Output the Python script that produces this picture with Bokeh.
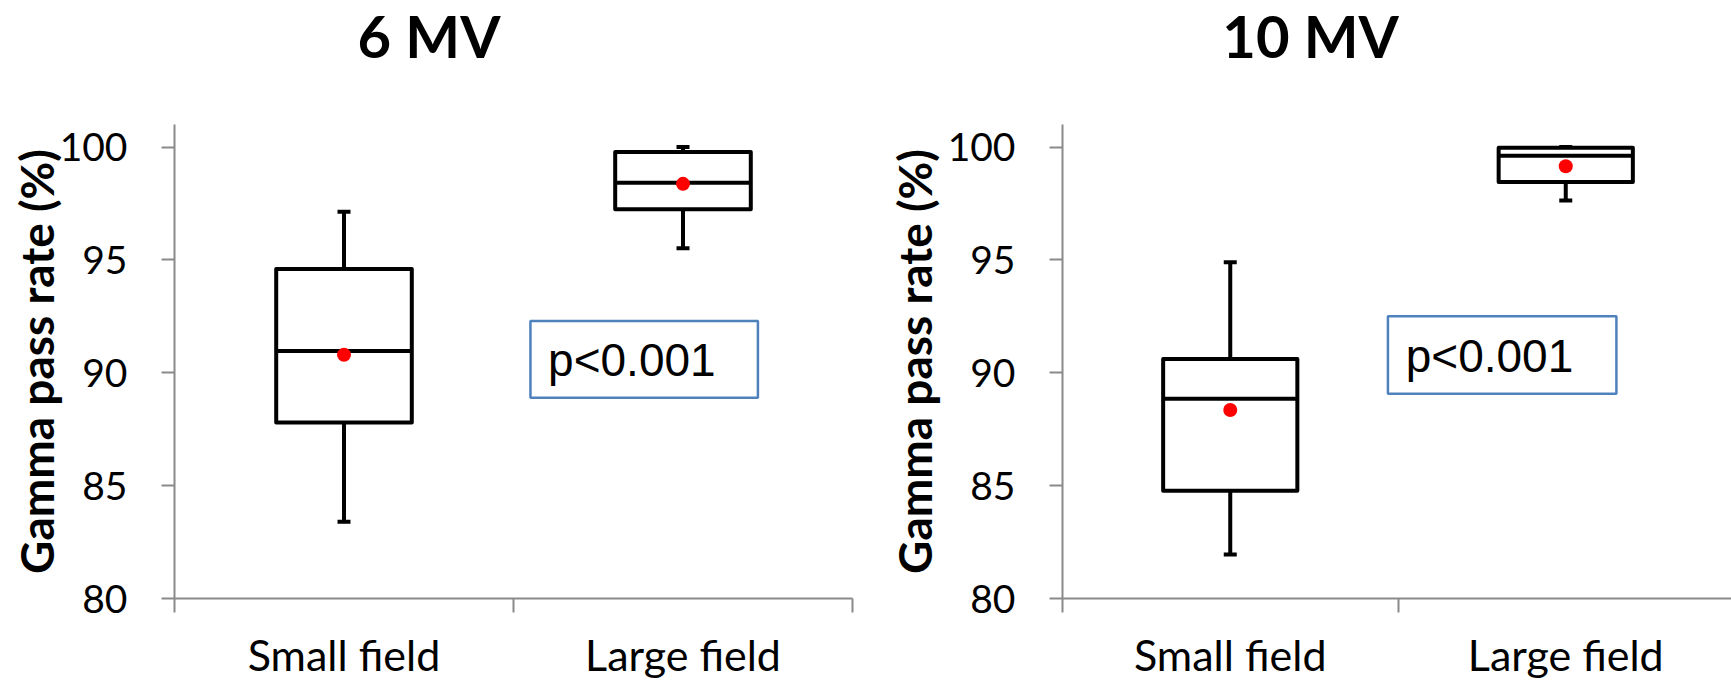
from bokeh.plotting import figure
from bokeh.models import Range1d, FixedTicker, Label, BoxAnnotation, ColumnDataSource
from bokeh.layouts import row, column
from bokeh.embed import file_html
from bokeh.resources import INLINE

# ---------------- data ----------------
categories = ["Small field", "Large field"]
titles = ["6 MV", "10 MV"]
y_ticks = [80, 85, 90, 95, 100]
y_label = "Gamma pass rate (%)"
p_text = "p<0.001"

mv6_lower = [83.4, 95.52]
mv6_q1 = [87.8, 97.24]
mv6_median = [90.97, 98.42]
mv6_q3 = [94.6, 99.78]
mv6_upper = [97.14, 100.0]
mv6_mean = [90.8, 98.37]

mv10_lower = [81.95, 97.63]
mv10_q1 = [84.77, 98.45]
mv10_median = [88.85, 99.62]
mv10_q3 = [90.61, 99.97]
mv10_upper = [94.9, 100.0]
mv10_mean = [88.35, 99.15]

AXIS_GRAY = "#8a8a8a"
H = 683
TITLE_H = 100
TOP = 124 - TITLE_H
BOTTOM = 85
TITLE_FS = 58


def title_fig(text, fig_w, cx):
    t = figure(width=fig_w, height=TITLE_H, x_range=Range1d(0, fig_w), y_range=Range1d(0, TITLE_H),
               output_backend="svg", toolbar_location=None, x_axis_type=None, y_axis_type=None,
               min_border_left=0, min_border_right=0, min_border_top=0, min_border_bottom=0)
    t.xgrid.visible = False
    t.ygrid.visible = False
    t.outline_line_color = None
    # text box centred so that the baseline sits ~57 px below the top
    mid_from_top = 57 - 0.387 * TITLE_FS
    t.add_layout(Label(x=cx, y=TITLE_H - mid_from_top, text=text,
                       text_align="center", text_baseline="middle", text_font="Lato",
                       text_font_style="bold", text_font_size=f"{TITLE_FS}px", text_color="black"))
    return t


def build(lower, q1, med, q3, upper, mean, fig_w, frame_left, frame_w, x_end,
          ylabel_standoff, ptx, pty, pbox):
    p = figure(width=fig_w, height=H - TITLE_H, x_range=Range1d(0, x_end), y_range=Range1d(80, 101),
               output_backend="svg", toolbar_location=None,
               min_border_left=frame_left, min_border_right=fig_w - frame_left - frame_w,
               min_border_top=TOP, min_border_bottom=BOTTOM)
    p.xgrid.visible = False
    p.ygrid.visible = False
    p.outline_line_color = None
    p.background_fill_color = "white"
    p.border_fill_color = "white"

    xs = [i + 0.5 for i in range(len(categories))]
    bw = 0.4
    src = ColumnDataSource(dict(x=xs, xl=[x - bw / 2 for x in xs], xr=[x + bw / 2 for x in xs],
                                lower=lower, q1=q1, med=med, q3=q3, upper=upper, mean=mean))

    p.segment(x0="x", y0="q3", x1="x", y1="upper", source=src, line_color="black", line_width=4)
    p.segment(x0="x", y0="lower", x1="x", y1="q1", source=src, line_color="black", line_width=4)
    p.scatter(x="x", y="upper", source=src, marker="dash", size=13, line_width=4, line_color="black")
    p.scatter(x="x", y="lower", source=src, marker="dash", size=13, line_width=4, line_color="black")
    p.quad(left="xl", right="xr", bottom="q1", top="q3", source=src, fill_color="white",
           line_color="black", line_width=4, line_join="round")
    p.segment(x0="xl", y0="med", x1="xr", y1="med", source=src, line_color="black", line_width=4)
    p.scatter(x="x", y="mean", source=src, size=14, fill_color="#ff0000", line_color=None)

    # y axis
    ya = p.yaxis[0]
    ya.ticker = FixedTicker(ticks=y_ticks)
    ya.major_tick_out = 13
    ya.major_tick_in = 0
    ya.minor_tick_out = 0
    ya.minor_tick_in = 0
    ya.axis_line_color = AXIS_GRAY
    ya.axis_line_width = 2
    ya.major_tick_line_color = AXIS_GRAY
    ya.major_tick_line_width = 2
    ya.major_label_text_font = "Lato"
    ya.major_label_text_font_size = "39px"
    ya.major_label_text_color = "black"
    ya.major_label_standoff = 34
    ya.axis_label = y_label
    ya.axis_label_text_font = "Lato"
    ya.axis_label_text_font_style = "bold"
    ya.axis_label_text_font_size = "46px"
    ya.axis_label_text_color = "black"
    ya.axis_label_standoff = ylabel_standoff

    # x axis
    xa = p.xaxis[0]
    xa.ticker = FixedTicker(ticks=xs, minor_ticks=list(range(len(categories) + 1)))
    xa.major_label_overrides = {x: c for x, c in zip(xs, categories)}
    xa.major_tick_out = 0
    xa.major_tick_in = 0
    xa.minor_tick_out = 14
    xa.minor_tick_in = 0
    xa.minor_tick_line_color = AXIS_GRAY
    xa.minor_tick_line_width = 2
    xa.axis_line_color = AXIS_GRAY
    xa.axis_line_width = 2
    xa.major_label_text_font = "Lato"
    xa.major_label_text_font_size = "43px"
    xa.major_label_text_color = "black"
    xa.major_label_standoff = 16

    # p-value box
    l, r, t, b = pbox
    p.add_layout(BoxAnnotation(left=l, right=r, top=t, bottom=b, fill_color=None,
                               line_color="#4f81bd", line_alpha=1.0, line_width=2.5))
    p.add_layout(Label(x=ptx, y=pty, text=p_text, text_align="left", text_baseline="middle",
                       text_font="Liberation Sans", text_font_size="46px", text_color="black"))
    return p


t1 = title_fig(titles[0], 866, 428.5)
t2 = title_fig(titles[1], 865, 1310 - 866)
p1 = build(mv6_lower, mv6_q1, mv6_median, mv6_q3, mv6_upper, mv6_mean,
           fig_w=866, frame_left=174, frame_w=678, x_end=2.0,
           ylabel_standoff=-7, ptx=1.102, pty=90.58,
           pbox=(1.05, 1.721, 92.29, 88.89))
p2 = build(mv10_lower, mv10_q1, mv10_median, mv10_q3, mv10_upper, mv10_mean,
           fig_w=865, frame_left=196, frame_w=669, x_end=669 / 335.5,
           ylabel_standoff=3, ptx=1.023, pty=90.73,
           pbox=(0.970, 1.651, 92.51, 89.07))

layout = column(row(t1, t2), row(p1, p2))
open("out.html", "w").write(file_html(layout, INLINE))
